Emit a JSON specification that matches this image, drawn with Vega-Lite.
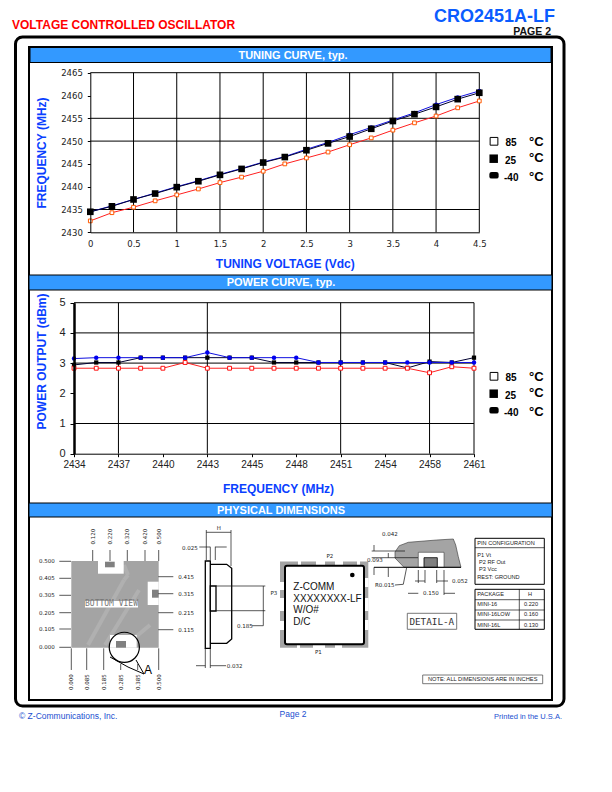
{
"$schema":"https://vega.github.io/schema/vega-lite/v6.json",
"width":612,"height":792,"padding":0,"autosize":{"type":"none"},
"background":"white",
"config":{"view":{"stroke":null},"font":"Liberation Sans"},
"resolve":{"scale":{"x":"independent","y":"independent"},"axis":{"x":"independent","y":"independent"}},
"layer":[
{"encoding":{"x":{"field":"x","type":"quantitative","scale":{"domain":[0,612],"range":[0,612]},"axis":null},"y":{"field":"y","type":"quantitative","scale":{"domain":[0,792],"range":[0,792]},"axis":null},"x2":{"field":"x2"},"y2":{"field":"y2"}},
 "layer":[
 {"data":{"values":[{"x":15.5,"x2":564,"y":37,"y2":706}]},"mark":{"type":"rect","fill":"white","stroke":"black","strokeWidth":3,"cornerRadius":7}},
 {"data":{"values":[{"x":29,"x2":552,"y":47,"y2":700}]},"mark":{"type":"rect","fill":"white","stroke":"black","strokeWidth":2}},
 {"data":{"values":[{"x":30,"x2":551,"y":47.5,"y2":62.5},{"x":29,"x2":552,"y":275,"y2":290},{"x":29,"x2":552,"y":503,"y2":517}]},"mark":{"type":"rect","fill":"#3399ff","stroke":"black","strokeWidth":1}}
 ]},
{"data":{"name":"tune","values":[
{"v":0,"t":"85","f":2432.5},{"v":0.25,"t":"85","f":2434.3},{"v":0.5,"t":"85","f":2435.5},{"v":0.75,"t":"85","f":2436.9},{"v":1,"t":"85","f":2438.2},{"v":1.25,"t":"85","f":2439.5},{"v":1.5,"t":"85","f":2440.9},{"v":1.75,"t":"85","f":2442.1},{"v":2,"t":"85","f":2443.4},{"v":2.25,"t":"85","f":2445},{"v":2.5,"t":"85","f":2446.3},{"v":2.75,"t":"85","f":2447.6},{"v":3,"t":"85","f":2449.2},{"v":3.25,"t":"85","f":2450.7},{"v":3.5,"t":"85","f":2452.4},{"v":3.75,"t":"85","f":2454},{"v":4,"t":"85","f":2455.5},{"v":4.25,"t":"85","f":2457.3},{"v":4.5,"t":"85","f":2458.8},
{"v":0,"t":"-40","f":2434.5},{"v":0.25,"t":"-40","f":2435.8},{"v":0.5,"t":"-40","f":2437.2},{"v":0.75,"t":"-40","f":2438.6},{"v":1,"t":"-40","f":2440},{"v":1.25,"t":"-40","f":2441.3},{"v":1.5,"t":"-40","f":2442.7},{"v":1.75,"t":"-40","f":2444},{"v":2,"t":"-40","f":2445.4},{"v":2.25,"t":"-40","f":2446.6},{"v":2.5,"t":"-40","f":2448.2},{"v":2.75,"t":"-40","f":2449.7},{"v":3,"t":"-40","f":2451.4},{"v":3.25,"t":"-40","f":2453},{"v":3.5,"t":"-40","f":2454.6},{"v":3.75,"t":"-40","f":2456.2},{"v":4,"t":"-40","f":2458},{"v":4.25,"t":"-40","f":2459.6},{"v":4.5,"t":"-40","f":2461},
{"v":0,"t":"25","f":2434.5},{"v":0.25,"t":"25","f":2435.7},{"v":0.5,"t":"25","f":2437.2},{"v":0.75,"t":"25","f":2438.5},{"v":1,"t":"25","f":2439.9},{"v":1.25,"t":"25","f":2441.2},{"v":1.5,"t":"25","f":2442.6},{"v":1.75,"t":"25","f":2443.9},{"v":2,"t":"25","f":2445.3},{"v":2.25,"t":"25","f":2446.5},{"v":2.5,"t":"25","f":2448},{"v":2.75,"t":"25","f":2449.5},{"v":3,"t":"25","f":2451},{"v":3.25,"t":"25","f":2452.7},{"v":3.5,"t":"25","f":2454.4},{"v":3.75,"t":"25","f":2455.9},{"v":4,"t":"25","f":2457.5},{"v":4.25,"t":"25","f":2459.2},{"v":4.5,"t":"25","f":2460.6}
]},
 "resolve":{"axis":{"x":"independent","y":"independent"}},
 "layer":[
 {"data":{"values":[{"v":0.5,"a":2430,"b":2465},{"v":1,"a":2430,"b":2465},{"v":1.5,"a":2430,"b":2465},{"v":2,"a":2430,"b":2465},{"v":2.5,"a":2430,"b":2465},{"v":3,"a":2430,"b":2465},{"v":3.5,"a":2430,"b":2465},{"v":4,"a":2430,"b":2465},{"v":4.5,"a":2430,"b":2465}]},
  "mark":{"type":"rule","stroke":"black","strokeWidth":1},
  "encoding":{"x":{"field":"v","type":"quantitative","scale":{"domain":[0,4.5],"range":[90.3,479.3]},"axis":null},"y":{"field":"a","type":"quantitative","scale":{"domain":[2430,2465],"range":[232.3,72.7]},"axis":null},"y2":{"field":"b"}}},
 {"data":{"values":[{"f":2465,"a":0,"b":4.5},{"f":2455,"a":0,"b":4.5},{"f":2450,"a":0,"b":4.5},{"f":2435,"a":0,"b":4.5}]},
  "mark":{"type":"rule","stroke":"black","strokeWidth":1},
  "encoding":{"y":{"field":"f","type":"quantitative","scale":{"domain":[2430,2465],"range":[232.3,72.7]},"axis":null},"x":{"field":"a","type":"quantitative","scale":{"domain":[0,4.5],"range":[90.3,479.3]},"axis":null},"x2":{"field":"b"}}},
 {"mark":{"type":"line","strokeWidth":1},
  "encoding":{"x":{"field":"v","type":"quantitative","scale":{"domain":[0,4.5],"range":[90.3,479.3]},
    "axis":{"orient":"bottom","offset":-559.7,"zindex":1,"values":[0,0.5,1,1.5,2,2.5,3,3.5,4,4.5],"format":"~g","tickSize":0,"labelPadding":7,"labelFont":"DejaVu Sans","labelFontSize":8.5,"labelColor":"#222","labelFlush":false,"labelOverlap":false,"grid":false,"domainColor":"black","domainWidth":1,"title":"TUNING VOLTAGE (Vdc)","titleFont":"Liberation Sans","titleFontSize":12,"titleFontWeight":"bold","titleColor":"#0a3fff","titlePadding":11}},
   "y":{"field":"f","type":"quantitative","scale":{"domain":[2430,2465],"range":[232.3,72.7]},
    "axis":{"orient":"left","offset":-90.3,"zindex":1,"values":[2430,2435,2440,2445,2450,2455,2460,2465],"format":"d","tickSize":3,"tickColor":"black","labelPadding":5,"labelFont":"DejaVu Sans","labelFontSize":8.5,"labelColor":"#222","labelOverlap":false,"grid":false,"domainColor":"black","domainWidth":1,"title":"FREQUENCY (MHz)","titleFont":"Liberation Sans","titleFontSize":12,"titleFontWeight":"bold","titleColor":"#0a3fff","titlePadding":12}},
   "color":{"field":"t","type":"nominal","scale":{"domain":["85","-40","25"],"range":["#ff2020","#1010e0","#000030"]},"legend":null}}},
 {"transform":[{"filter":"datum.t==='85'"}],"mark":{"type":"point","shape":"square","size":14,"filled":false,"fill":"white","stroke":"#ff5a00","strokeWidth":1,"opacity":1},
  "encoding":{"x":{"field":"v","type":"quantitative","scale":{"domain":[0,4.5],"range":[90.3,479.3]},"axis":null},"y":{"field":"f","type":"quantitative","scale":{"domain":[2430,2465],"range":[232.3,72.7]},"axis":null}}},
 {"transform":[{"filter":"datum.t==='-40'"}],"mark":{"type":"point","shape":"circle","size":18,"filled":true,"fill":"#0000ee","opacity":1},
  "encoding":{"x":{"field":"v","type":"quantitative","scale":{"domain":[0,4.5],"range":[90.3,479.3]},"axis":null},"y":{"field":"f","type":"quantitative","scale":{"domain":[2430,2465],"range":[232.3,72.7]},"axis":null}}},
 {"transform":[{"filter":"datum.t==='25'"}],"mark":{"type":"point","shape":"square","size":44,"filled":true,"fill":"black","opacity":1},
  "encoding":{"x":{"field":"v","type":"quantitative","scale":{"domain":[0,4.5],"range":[90.3,479.3]},"axis":null},"y":{"field":"f","type":"quantitative","scale":{"domain":[2430,2465],"range":[232.3,72.7]},"axis":null}}}
 ]},
{"data":{"name":"power","values":[
{"q":"2434","t":"25","p":2.94},{"q":"2435.5","t":"25","p":3.02},{"q":"2437","t":"25","p":3.02},{"q":"2438.5","t":"25","p":3.18},{"q":"2440","t":"25","p":3.18},{"q":"2441.5","t":"25","p":3.18},{"q":"2443","t":"25","p":3.18},{"q":"2444","t":"25","p":3.18},{"q":"2445","t":"25","p":3.18},{"q":"2446.5","t":"25","p":3.02},{"q":"2448","t":"25","p":3.02},{"q":"2449.5","t":"25","p":3.02},{"q":"2451","t":"25","p":3.02},{"q":"2452.5","t":"25","p":3.02},{"q":"2454","t":"25","p":3.02},{"q":"2456","t":"25","p":2.84},{"q":"2458","t":"25","p":3.05},{"q":"2459.5","t":"25","p":3.02},{"q":"2461","t":"25","p":3.18},
{"q":"2434","t":"85","p":2.83},{"q":"2435.5","t":"85","p":2.83},{"q":"2437","t":"85","p":2.83},{"q":"2438.5","t":"85","p":2.83},{"q":"2440","t":"85","p":2.83},{"q":"2441.5","t":"85","p":3.02},{"q":"2443","t":"85","p":2.83},{"q":"2444","t":"85","p":2.83},{"q":"2445","t":"85","p":2.83},{"q":"2446.5","t":"85","p":2.83},{"q":"2448","t":"85","p":2.83},{"q":"2449.5","t":"85","p":2.83},{"q":"2451","t":"85","p":2.83},{"q":"2452.5","t":"85","p":2.83},{"q":"2454","t":"85","p":2.83},{"q":"2456","t":"85","p":2.83},{"q":"2458","t":"85","p":2.68},{"q":"2459.5","t":"85","p":2.88},{"q":"2461","t":"85","p":2.83},
{"q":"2434","t":"-40","p":3.15},{"q":"2435.5","t":"-40","p":3.18},{"q":"2437","t":"-40","p":3.18},{"q":"2438.5","t":"-40","p":3.18},{"q":"2440","t":"-40","p":3.18},{"q":"2441.5","t":"-40","p":3.18},{"q":"2443","t":"-40","p":3.35},{"q":"2444","t":"-40","p":3.18},{"q":"2445","t":"-40","p":3.18},{"q":"2446.5","t":"-40","p":3.18},{"q":"2448","t":"-40","p":3.18},{"q":"2449.5","t":"-40","p":3.02},{"q":"2451","t":"-40","p":3.02},{"q":"2452.5","t":"-40","p":3.02},{"q":"2454","t":"-40","p":3.02},{"q":"2456","t":"-40","p":3.02},{"q":"2458","t":"-40","p":3.02},{"q":"2459.5","t":"-40","p":3.02},{"q":"2461","t":"-40","p":3.02}
]},
 "resolve":{"axis":{"x":"independent","y":"independent"}},
 "encoding":{"x":{"field":"q","type":"ordinal","sort":null,"axis":null,"scale":{"type":"point","domain":["2434","2435.5","2437","2438.5","2440","2441.5","2443","2444","2445","2446.5","2448","2449.5","2451","2452.5","2454","2456","2458","2459.5","2461"],"range":[74,474],"padding":0}},"y":{"field":"p","type":"quantitative","axis":null,"scale":{"domain":[0,5],"range":[453.7,302.7]}}},
 "layer":[
 {"data":{"values":[{"q":"2437","a":0,"b":5},{"q":"2443","a":0,"b":5},{"q":"2451","a":0,"b":5},{"q":"2458","a":0,"b":5},{"q":"2461","a":0,"b":5}]},
  "mark":{"type":"rule","stroke":"black","strokeWidth":1},
  "encoding":{"x":{"field":"q","type":"ordinal","axis":null,"scale":{"type":"point","domain":["2434","2435.5","2437","2438.5","2440","2441.5","2443","2444","2445","2446.5","2448","2449.5","2451","2452.5","2454","2456","2458","2459.5","2461"],"range":[74,474],"padding":0}},"y":{"field":"a","type":"quantitative","axis":null,"scale":{"domain":[0,5],"range":[453.7,302.7]}},"y2":{"field":"b"}}},
 {"data":{"values":[{"p":5,"a":"2434","b":"2461"},{"p":4,"a":"2434","b":"2461"},{"p":3,"a":"2434","b":"2461"},{"p":1,"a":"2434","b":"2461"}]},
  "mark":{"type":"rule","stroke":"black","strokeWidth":1},
  "encoding":{"y":{"field":"p","type":"quantitative","axis":null,"scale":{"domain":[0,5],"range":[453.7,302.7]}},"x":{"field":"a","type":"ordinal","axis":null,"scale":{"type":"point","domain":["2434","2435.5","2437","2438.5","2440","2441.5","2443","2444","2445","2446.5","2448","2449.5","2451","2452.5","2454","2456","2458","2459.5","2461"],"range":[74,474],"padding":0}},"x2":{"field":"b"}}},
 {"mark":{"type":"line","strokeWidth":1},
  "encoding":{
   "x":{"field":"q","type":"ordinal","sort":null,"scale":{"type":"point","domain":["2434","2435.5","2437","2438.5","2440","2441.5","2443","2444","2445","2446.5","2448","2449.5","2451","2452.5","2454","2456","2458","2459.5","2461"],"range":[74,474],"padding":0},
    "axis":{"orient":"bottom","offset":-338.3,"zindex":1,"values":["2434","2437","2440","2443","2445","2448","2451","2454","2458","2461"],"tickSize":3,"tickColor":"black","labelAngle":0,"labelPadding":3,"labelFont":"Liberation Sans","labelFontSize":10,"labelColor":"#222","labelOverlap":false,"domainColor":"black","domainWidth":1,"grid":false,"title":"FREQUENCY (MHz)","titleFont":"Liberation Sans","titleFontSize":12,"titleFontWeight":"bold","titleColor":"#0a3fff","titleX":278,"titleY":30}},
   "y":{"field":"p","type":"quantitative","scale":{"domain":[0,5],"range":[453.7,302.7]},
    "axis":{"orient":"left","offset":-74,"zindex":1,"values":[0,1,2,3,4,5],"tickSize":4,"tickColor":"black","labelPadding":5,"labelFont":"Liberation Sans","labelFontSize":11,"labelColor":"#222","labelOverlap":false,"domainColor":"black","domainWidth":2.5,"grid":false,"title":"POWER OUTPUT (dBm)","titleFont":"Liberation Sans","titleFontSize":12,"titleFontWeight":"bold","titleColor":"#0a3fff","titleX":-26,"titleY":361}},
   "color":{"field":"t","type":"nominal","scale":{"domain":["85","-40","25"],"range":["#ff2020","#1010e0","#000030"]},"legend":null}}},
 {"transform":[{"filter":"datum.t==='25'"}],"mark":{"type":"point","shape":"square","size":18,"filled":true,"fill":"black","opacity":1}},
 {"transform":[{"filter":"datum.t==='85'"}],"mark":{"type":"point","shape":"square","size":15,"filled":false,"fill":"white","stroke":"#ff1010","strokeWidth":1,"opacity":1}},
 {"transform":[{"filter":"datum.t==='-40'"}],"mark":{"type":"point","shape":"circle","size":20,"filled":true,"fill":"#0000ee","opacity":1}}
 ]},
{"encoding":{"x":{"field":"x","type":"quantitative","scale":{"domain":[0,612],"range":[0,612]},"axis":null},"y":{"field":"y","type":"quantitative","scale":{"domain":[0,792],"range":[0,792]},"axis":null}},
 "layer":[
 {"data":{"values":[{"x":71.3,"x2":158.7,"y":561,"y2":647.7},{"x":280,"x2":368.3,"y":561.5,"y2":647.7}]},"mark":{"type":"rect","fill":"#a4a4a4"},"encoding":{"x2":{"field":"x2"},"y2":{"field":"y2"}}},
 {"data":{"values":[{"x":88,"y":645,"x2":124,"y2":580},{"x":124,"y":580,"x2":128,"y2":575},{"x":128,"y":575,"x2":124,"y2":565},{"x":105,"y":645,"x2":139,"y2":590},{"x":132,"y":640,"x2":150,"y2":625}]},"mark":{"type":"rule","stroke":"#b0b0b0","strokeWidth":4},"encoding":{"x2":{"field":"x2"},"y2":{"field":"y2"}}},
 {"data":{"values":[{"x":98,"x2":123.7,"y":561,"y2":573.7},{"x":147.7,"x2":158.7,"y":581.7,"y2":605},{"x":110,"x2":136.7,"y":635,"y2":647.7},{"x":85,"x2":138,"y":601,"y2":607.5},
  {"x":298,"x2":301,"y":561,"y2":566},{"x":316,"x2":325,"y":561,"y2":566},{"x":335,"x2":343,"y":561,"y2":566},{"x":357,"x2":360,"y":561,"y2":566},
  {"x":297,"x2":300,"y":643,"y2":648},{"x":313,"x2":325,"y":643,"y2":648},{"x":335,"x2":342,"y":643,"y2":648},
  {"x":280,"x2":285,"y":582,"y2":590},{"x":280,"x2":285,"y":598,"y2":611},{"x":280,"x2":285,"y":621,"y2":630},
  {"x":364,"x2":368.5,"y":578,"y2":587},{"x":364,"x2":368.5,"y":598,"y2":611},{"x":364,"x2":368.5,"y":620,"y2":630}]},"mark":{"type":"rect","fill":"white"},"encoding":{"x2":{"field":"x2"},"y2":{"field":"y2"}}},
 {"data":{"values":[{"x":105,"x2":114.7,"y":561.7,"y2":567.3},{"x":152,"x2":158.7,"y":589.7,"y2":597.7},{"x":116,"x2":126,"y":641,"y2":647.7}]},"mark":{"type":"rect","fill":"#808080"},"encoding":{"x2":{"field":"x2"},"y2":{"field":"y2"}}},
 {"data":{"values":[{"x":285,"x2":364,"y":565.7,"y2":644.3}]},"mark":{"type":"rect","fill":"white","stroke":"black","strokeWidth":2,"cornerRadius":2},"encoding":{"x2":{"field":"x2"},"y2":{"field":"y2"}}},
 {"data":{"values":[{"i":1,"x":395,"y":552},{"i":2,"x":399.3,"y":545.7},{"i":3,"x":408.3,"y":542.3},{"i":4,"x":436.7,"y":540},{"i":5,"x":453.3,"y":539},{"i":6,"x":455.7,"y":545},{"i":7,"x":458.3,"y":556.7},{"i":8,"x":461,"y":567.3},{"i":9,"x":404,"y":567.3},{"i":10,"x":395,"y":558},{"i":11,"x":395,"y":552}]},"mark":{"type":"line","fill":"#a4a4a4","stroke":"#333","strokeWidth":0.6},"encoding":{"order":{"field":"i"}}},
 {"data":{"values":[{"x":418.3,"x2":444,"y":552.3,"y2":567.3}]},"mark":{"type":"rect","fill":"white","stroke":"#222","strokeWidth":0.5},"encoding":{"x2":{"field":"x2"},"y2":{"field":"y2"}}},
 {"data":{"values":[{"x":424,"x2":437.3,"y":557.7,"y2":567.3}]},"mark":{"type":"rect","fill":"#808080","stroke":"black","strokeWidth":0.8},"encoding":{"x2":{"field":"x2"},"y2":{"field":"y2"}}},
 {"data":{"values":[{"x":205.3,"x2":210.3,"y":561,"y2":648.3},{"x":210.3,"x2":216,"y":586,"y2":611}]},"mark":{"type":"rect","fill":"white","stroke":"black","strokeWidth":1.3},"encoding":{"x2":{"field":"x2"},"y2":{"field":"y2"}}},
 {"data":{"values":[{"i":1,"x":210.3,"y":564.3},{"i":2,"x":226.7,"y":564.3},{"i":3,"x":231.7,"y":568.3},{"i":4,"x":231.7,"y":639},{"i":5,"x":226.7,"y":643.3},{"i":6,"x":210.3,"y":643.3}]},"mark":{"type":"line","stroke":"black","strokeWidth":1.3},"encoding":{"order":{"field":"i"}}},
 {"data":{"values":[{"x":124.3,"y":647.3}]},"mark":{"type":"point","shape":"circle","size":908,"filled":false,"stroke":"black","strokeWidth":1.2,"opacity":1}},
 {"data":{"values":[{"x":110,"y":657,"x2":128,"y2":667},{"x":128,"y":667,"x2":144,"y2":674},{"x":136,"y":660,"x2":144,"y2":674},{"x":374,"y":567.3,"x2":461,"y2":567.3}]},"mark":{"type":"rule","stroke":"black","strokeWidth":1},"encoding":{"x2":{"field":"x2"},"y2":{"field":"y2"}}},
 {"data":{"values":[
  {"x":59.3,"x2":71,"y":561.3,"y2":561.3},{"x":59.3,"x2":71,"y":578.3,"y2":578.3},{"x":59.3,"x2":71,"y":595.3,"y2":595.3},{"x":59.3,"x2":71,"y":612.7,"y2":612.7},{"x":59.3,"x2":71,"y":629,"y2":629},{"x":59.3,"x2":71,"y":647.3,"y2":647.3},
  {"x":158.3,"x2":173.3,"y":576.7,"y2":576.7},{"x":158.3,"x2":173.3,"y":593.7,"y2":593.7},{"x":158.3,"x2":173.3,"y":612.7,"y2":612.7},{"x":158.3,"x2":173.3,"y":629.7,"y2":629.7},
  {"x":92.7,"x2":92.7,"y":550,"y2":561},{"x":110,"x2":110,"y":550,"y2":561},{"x":127.3,"x2":127.3,"y":550,"y2":561},{"x":145,"x2":145,"y":550,"y2":561},{"x":158.7,"x2":158.7,"y":550,"y2":561},
  {"x":71.3,"x2":71.3,"y":648.3,"y2":670},{"x":86.7,"x2":86.7,"y":648.3,"y2":670},{"x":103.7,"x2":103.7,"y":648.3,"y2":670},{"x":120.7,"x2":120.7,"y":664,"y2":670},{"x":137.7,"x2":137.7,"y":664,"y2":670},{"x":158.7,"x2":158.7,"y":648.3,"y2":670},
  {"x":206.3,"x2":206.3,"y":530,"y2":560},{"x":231,"x2":231,"y":530,"y2":566},{"x":206.3,"x2":231,"y":532.3,"y2":532.3},
  {"x":199.3,"x2":210,"y":547,"y2":547},{"x":210.3,"x2":210.3,"y":546.7,"y2":560},{"x":215.3,"x2":215.3,"y":546.7,"y2":560},{"x":215.3,"x2":226.7,"y":547,"y2":547},
  {"x":216,"x2":265.3,"y":586,"y2":586},{"x":216,"x2":265.3,"y":610.7,"y2":610.7},{"x":263.3,"x2":263.3,"y":586,"y2":625.7},{"x":251.7,"x2":263.3,"y":625.7,"y2":625.7},
  {"x":205.3,"x2":205.3,"y":648,"y2":668},{"x":210.3,"x2":210.3,"y":648,"y2":668},{"x":196,"x2":205.3,"y":665.7,"y2":665.7},{"x":210.3,"x2":226,"y":665.7,"y2":665.7},
  {"x":371.7,"x2":405,"y":551,"y2":551},{"x":371.7,"x2":418,"y":557.7,"y2":557.7},{"x":374,"x2":374,"y":545,"y2":551},{"x":388.3,"x2":388.3,"y":553,"y2":557.7},{"x":374,"x2":374,"y":567.3,"y2":575},{"x":388.3,"x2":388.3,"y":567.3,"y2":577},
  {"x":395,"x2":403.3,"y":585,"y2":584.3},{"x":403.3,"x2":406.7,"y":584.3,"y2":567.3},
  {"x":418.3,"x2":418.3,"y":570,"y2":583},{"x":425,"x2":425,"y":570,"y2":583},{"x":436.7,"x2":436.7,"y":570,"y2":583},{"x":444,"x2":444,"y":570,"y2":595},
  {"x":415,"x2":425,"y":581,"y2":581},{"x":436.7,"x2":448,"y":581,"y2":581},{"x":408,"x2":418.3,"y":593.3,"y2":593.3},{"x":444,"x2":455,"y":593.3,"y2":593.3},
  {"x":475,"x2":544.3,"y":547.7,"y2":547.7},{"x":475,"x2":544.3,"y":599.7,"y2":599.7},{"x":475,"x2":544.3,"y":610,"y2":610},{"x":475,"x2":544.3,"y":620,"y2":620},{"x":519.3,"x2":519.3,"y":589.3,"y2":629.3}]},
  "mark":{"type":"rule","stroke":"#111","strokeWidth":0.7},"encoding":{"x2":{"field":"x2"},"y2":{"field":"y2"}}},
 {"data":{"values":[{"x":475,"x2":544.3,"y":538.3,"y2":584.3},{"x":475,"x2":544.3,"y":589.3,"y2":629.3}]},"mark":{"type":"rect","fill":"none","stroke":"black","strokeWidth":1},"encoding":{"x2":{"field":"x2"},"y2":{"field":"y2"}}},
 {"data":{"values":[{"x":422.7,"x2":542.7,"y":675,"y2":683.7},{"x":407.3,"x2":456.7,"y":613.3,"y2":629.3}]},"mark":{"type":"rect","fill":"none","stroke":"#555","strokeWidth":0.8},"encoding":{"x2":{"field":"x2"},"y2":{"field":"y2"}}},
 {"data":{"values":[{"x":352.3,"y":575}]},"mark":{"type":"point","shape":"circle","size":22,"filled":true,"fill":"black","opacity":1}},
 {"data":{"values":[{"x":494,"y":141.3},{"x":494,"y":376.3}]},"mark":{"type":"point","shape":"square","size":60,"filled":false,"stroke":"black","strokeWidth":1,"opacity":1}},
 {"data":{"values":[{"x":493.7,"y":158.7},{"x":493.7,"y":393.7}]},"mark":{"type":"point","shape":"square","size":72,"filled":true,"fill":"black","opacity":1}},
 {"data":{"values":[{"x":494,"y":175.3},{"x":494,"y":410.3}]},"mark":{"type":"point","shape":"M-1,-0.3 Q-1,-0.7 -0.5,-0.7 L0.5,-0.7 Q1,-0.7 1,-0.3 L1,0.3 Q1,0.7 0.5,0.7 L-0.5,0.7 Q-1,0.7 -1,0.3 Z","size":86,"filled":true,"fill":"black","opacity":1}},
 {"data":{"values":[{"x":12,"y":25,"s":"VOLTAGE CONTROLLED OSCILLATOR"}]},"mark":{"type":"text","align":"left","baseline":"middle","font":"Liberation Sans","fontWeight":"bold","fontSize":12,"fill":"#ff0000"},"encoding":{"text":{"field":"s"}}},
 {"data":{"values":[{"x":555,"y":16.5,"s":"CRO2451A-LF"}]},"mark":{"type":"text","align":"right","baseline":"middle","font":"Liberation Sans","fontWeight":"bold","fontSize":18,"fill":"#0a5cff"},"encoding":{"text":{"field":"s"}}},
 {"data":{"values":[{"x":551,"y":31.5,"s":"PAGE 2"}]},"mark":{"type":"text","align":"right","baseline":"middle","font":"Liberation Sans","fontWeight":"bold","fontSize":10.5,"fill":"#111"},"encoding":{"text":{"field":"s"}}},
 {"data":{"values":[{"x":293,"y":56,"s":"TUNING CURVE, typ."},{"x":281,"y":283,"s":"POWER CURVE, typ."},{"x":281,"y":510.5,"s":"PHYSICAL DIMENSIONS"}]},"mark":{"type":"text","align":"center","baseline":"middle","font":"Liberation Sans","fontWeight":"bold","fontSize":11,"fill":"white"},"encoding":{"text":{"field":"s"}}},
 {"data":{"values":[{"x":505.5,"y":142.5,"s":"85"},{"x":505,"y":160.5,"s":"25"},{"x":504,"y":177.5,"s":"-40"},{"x":505.5,"y":377.5,"s":"85"},{"x":505,"y":395.5,"s":"25"},{"x":504,"y":412.5,"s":"-40"}]},"mark":{"type":"text","align":"left","baseline":"middle","font":"Liberation Sans","fontWeight":"bold","fontSize":10,"fill":"black"},"encoding":{"text":{"field":"s"}}},
 {"data":{"values":[{"x":529,"y":142,"s":"°C"},{"x":529,"y":158,"s":"°C"},{"x":529,"y":177,"s":"°C"},{"x":529,"y":377,"s":"°C"},{"x":529,"y":393,"s":"°C"},{"x":529,"y":412,"s":"°C"}]},"mark":{"type":"text","align":"left","baseline":"middle","font":"Liberation Sans","fontWeight":"bold","fontSize":13,"fill":"black"},"encoding":{"text":{"field":"s"}}},
 {"data":{"values":[{"x":19,"y":716,"s":"© Z-Communications, Inc."}]},"mark":{"type":"text","align":"left","baseline":"middle","font":"Liberation Sans","fontSize":8.5,"fill":"#1a4fd0"},"encoding":{"text":{"field":"s"}}},
 {"data":{"values":[{"x":293,"y":714,"s":"Page 2"}]},"mark":{"type":"text","align":"center","baseline":"middle","font":"Liberation Sans","fontSize":8.5,"fill":"#1a4fd0"},"encoding":{"text":{"field":"s"}}},
 {"data":{"values":[{"x":562,"y":717,"s":"Printed in the U.S.A."}]},"mark":{"type":"text","align":"right","baseline":"middle","font":"Liberation Sans","fontSize":7.5,"fill":"#1a4fd0"},"encoding":{"text":{"field":"s"}}},
 {"data":{"values":[{"x":39,"y":561.3,"s":"0.500"},{"x":39,"y":578.3,"s":"0.405"},{"x":39,"y":595.3,"s":"0.305"},{"x":39,"y":612.7,"s":"0.205"},{"x":39,"y":629,"s":"0.105"},{"x":39,"y":647.3,"s":"0.000"},{"x":178.3,"y":576.7,"s":"0.415"},{"x":178.3,"y":593.7,"s":"0.315"},{"x":178.3,"y":612.7,"s":"0.215"},{"x":178.3,"y":629.7,"s":"0.115"},{"x":182,"y":547.7,"s":"0.025"},{"x":237,"y":626,"s":"0.185"},{"x":226.7,"y":665.7,"s":"0.032"},{"x":382,"y":534,"s":"0.042"},{"x":367,"y":559.7,"s":"0.093"},{"x":375,"y":585,"s":"R0.015"},{"x":452,"y":581,"s":"0.052"},{"x":423,"y":593.3,"s":"0.150"},{"x":270.5,"y":593,"s":"P3"},{"x":326.5,"y":556.3,"s":"P2"},{"x":315,"y":652,"s":"P1"}]},"mark":{"type":"text","align":"left","baseline":"middle","font":"DejaVu Sans","fontSize":5.5,"fill":"#222"},"encoding":{"text":{"field":"s"}}},
 {"data":{"values":[{"x":92.7,"y":536.7,"s":"0.120"},{"x":110,"y":536.7,"s":"0.220"},{"x":127.3,"y":536.7,"s":"0.320"},{"x":145,"y":536.7,"s":"0.420"},{"x":158.7,"y":536.7,"s":"0.500"},{"x":71.3,"y":682,"s":"0.000"},{"x":86.7,"y":682,"s":"0.085"},{"x":103.7,"y":682,"s":"0.185"},{"x":120.7,"y":682,"s":"0.285"},{"x":137.7,"y":682,"s":"0.385"},{"x":158.7,"y":682,"s":"0.500"}]},"mark":{"type":"text","angle":270,"align":"center","baseline":"middle","font":"DejaVu Sans","fontSize":5.5,"fill":"#222"},"encoding":{"text":{"field":"s"}}},
 {"data":{"values":[{"x":111.5,"y":604.3,"s":"BOTTOM VIEW"}]},"mark":{"type":"text","align":"center","baseline":"middle","font":"DejaVu Sans Mono","fontSize":8,"fill":"#777"},"encoding":{"text":{"field":"s"}}},
 {"data":{"values":[{"x":218.7,"y":528,"s":"H"}]},"mark":{"type":"text","align":"center","baseline":"middle","font":"DejaVu Sans","fontSize":5.5,"fill":"#222"},"encoding":{"text":{"field":"s"}}},
 {"data":{"values":[{"x":148,"y":670,"s":"A"}]},"mark":{"type":"text","align":"center","baseline":"middle","font":"Liberation Sans","fontSize":12,"fill":"black"},"encoding":{"text":{"field":"s"}}},
 {"data":{"values":[{"x":293.3,"y":587.3,"s":"Z-COMM"},{"x":293.3,"y":599,"s":"XXXXXXXX-LF"},{"x":293.3,"y":610.3,"s":"W/O#"},{"x":293.3,"y":622.3,"s":"D/C"}]},"mark":{"type":"text","align":"left","baseline":"middle","font":"Liberation Sans","fontSize":10,"fill":"#111"},"encoding":{"text":{"field":"s"}}},
 {"data":{"values":[{"x":431.8,"y":621.5,"s":"DETAIL-A"}]},"mark":{"type":"text","align":"center","baseline":"middle","font":"DejaVu Sans Mono","fontSize":9.3,"fill":"#333"},"encoding":{"text":{"field":"s"}}},
 {"data":{"values":[{"x":477.3,"y":543,"s":"PIN CONFIGURATION"},{"x":477.3,"y":554.7,"s":"P1  Vt"},{"x":479,"y":561.7,"s":"P2  RF Out"},{"x":479,"y":569,"s":"P3  Vcc"},{"x":477.3,"y":576.7,"s":"REST: GROUND"},{"x":477.3,"y":594,"s":"PACKAGE"},{"x":477.3,"y":604,"s":"MINI-16"},{"x":477.3,"y":614.3,"s":"MINI-16LOW"},{"x":477.3,"y":624.7,"s":"MINI-16L"}]},"mark":{"type":"text","align":"left","baseline":"middle","font":"Liberation Sans","fontSize":5.6,"fill":"#222"},"encoding":{"text":{"field":"s"}}},
 {"data":{"values":[{"x":530,"y":594,"s":"H"},{"x":531,"y":604,"s":"0.220"},{"x":531,"y":614.3,"s":"0.160"},{"x":531,"y":624.7,"s":"0.130"}]},"mark":{"type":"text","align":"center","baseline":"middle","font":"Liberation Sans","fontSize":5.6,"fill":"#222"},"encoding":{"text":{"field":"s"}}},
 {"data":{"values":[{"x":482.7,"y":679.4,"s":"NOTE: ALL DIMENSIONS ARE IN INCHES"}]},"mark":{"type":"text","align":"center","baseline":"middle","font":"Liberation Sans","fontSize":5.7,"fill":"#222"},"encoding":{"text":{"field":"s"}}}
 ]}
]
}
